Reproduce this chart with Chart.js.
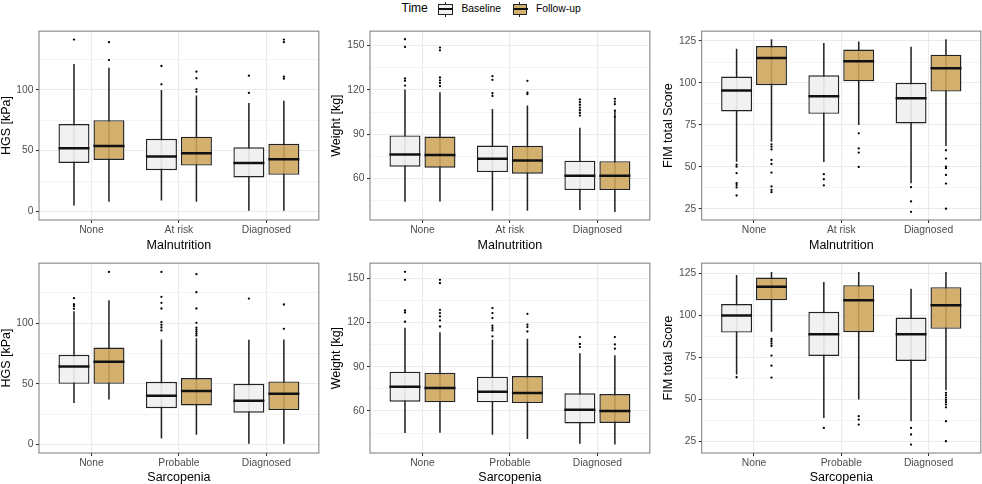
<!DOCTYPE html>
<html>
<head>
<meta charset="utf-8">
<script src="https://cdn.jsdelivr.net/npm/chart.js@4/dist/chart.umd.min.js"></script>
<style>
  html, body { margin: 0; padding: 0; background: #ffffff; }
  #wrap { position: relative; width: 982px; height: 484px; overflow: hidden; font-family: 'Liberation Sans', Arial, sans-serif; }
  canvas { position: absolute; }
  .lg { position: absolute; top: 0; height: 17px; line-height: 17px; white-space: nowrap; color: #000; }
  .key { position: absolute; top: 0; width: 17px; height: 17px; }
  .key .wh { position: absolute; left: 7.5px; width: 1.3px; top: 1.5px; height: 15px; background: #222; }
  .key .bx { position: absolute; left: 1px; top: 4px; width: 12.5px; height: 8.5px; border: 1.3px solid #222; }
  .key .md { position: absolute; left: 1px; top: 7.7px; width: 15px; height: 2px; background: #111; }
</style>
</head>
<body>
<div id="wrap">
  <div class="lg" style="left:401.5px;font-size:12px;">Time</div>
  <div class="key" style="left:437px;"><div class="wh"></div><div class="bx" style="background:#F2F2F2"></div><div class="md"></div></div>
  <div class="lg" style="left:461.5px;font-size:10.3px;">Baseline</div>
  <div class="key" style="left:511.5px;"><div class="wh"></div><div class="bx" style="background:#D3B06E"></div><div class="md"></div></div>
  <div class="lg" style="left:536px;font-size:10.3px;">Follow-up</div>

  <canvas id="c1" width="320" height="222" style="left:0px;top:30px"></canvas>
  <canvas id="c2" width="321" height="222" style="left:330px;top:30px"></canvas>
  <canvas id="c3" width="320" height="222" style="left:662px;top:30px"></canvas>
  <canvas id="c4" width="320" height="222" style="left:0px;top:262px"></canvas>
  <canvas id="c5" width="321" height="222" style="left:330px;top:262px"></canvas>
  <canvas id="c6" width="320" height="222" style="left:662px;top:262px"></canvas>
</div>
<script>
// ---------------- DATA ----------------
const malCategories = ['None', 'At risk', 'Diagnosed'];
const sarCategories = ['None', 'Probable', 'Diagnosed'];
const seriesNames = ['Baseline', 'Follow-up'];

// each entry: [lower whisker, Q1, median, Q3, upper whisker]
const hgsMalBaseline = [[4.9, 39.9, 51.9, 71.9, 121.3], [9.0, 33.9, 45.1, 59.8, 100.0], [0, 27.9, 39.9, 52.7, 89.3]];
const hgsMalFollowup = [[7.9, 42.3, 53.8, 75.1, 118.3], [7.9, 37.7, 47.8, 61.5, 95.4], [0, 30.1, 42.9, 55.7, 91.0]];
const hgsMalBaselineOut = [[141.5], [119.7, 104.6], [111.7, 97.5]];
const hgsMalFollowupOut = [[139.3, 124.6], [115.0, 109.6, 100.5, 98.4], [141.5, 139.3, 110.9, 109.3]];

const wtMalBaseline = [[44.2, 67.9, 76.2, 89.1, 120.2], [38.1, 64.3, 73.3, 82.3, 107.1], [38.6, 52.1, 61.8, 72.0, 94.3]];
const wtMalFollowup = [[44.4, 67.2, 75.8, 88.4, 118.4], [38.1, 63.2, 72.2, 82.1, 109.4], [37.2, 52.1, 61.8, 71.7, 106.7]];
const wtMalBaselineOut = [[154.3, 149.1, 127.7, 126.1, 122.9], [129.3, 126.8, 117.7, 115.9], [113.5, 111.7, 109.9, 108.0, 106.2, 104.4, 102.6]];
const wtMalFollowupOut = [[148.7, 146.8, 128.4, 126.5, 124.7, 122.5], [126.1, 118.2, 117.1], [113.9, 112.1, 110.3, 105.8, 101.7]];

const fimMalBaseline = [[53.1, 83.0, 95.5, 103.8, 120.4], [52.9, 81.6, 92.1, 104.6, 123.8], [40.2, 75.9, 90.9, 100.0, 121.6]];
const fimMalFollowup = [[65.0, 98.7, 114.9, 122.0, 126.0], [74.9, 101.0, 112.9, 119.9, 124.8], [62.4, 94.9, 108.8, 116.9, 126.0]];
const fimMalBaselineOut = [[51.3, 50.1, 46.2, 40.2, 39.1, 37.7, 32.9], [45.6, 42.6, 38.9], [37.9, 29.4, 23.2]];
const fimMalFollowupOut = [[63.4, 62.0, 60.4, 54.1, 51.7, 46.6, 38.3, 36.3, 34.9], [70.0, 61.0, 58.5, 49.9], [59.9, 54.9, 50.1, 49.2, 45.2, 40.0, 25.0]];

const hgsSarBaseline = [[34.1, 50.0, 64.3, 73.9, 109.9], [4.9, 29.9, 40.1, 51.6, 86.5], [0, 26.1, 36.0, 50.0, 86.3]];
const hgsSarFollowup = [[37.1, 50.0, 68.1, 79.9, 119.0], [8.0, 32.1, 44.0, 54.7, 87.6], [0, 28.3, 41.8, 51.9, 86.5]];
const hgsSarBaselineOut = [[120.6, 115.7, 114.0, 111.8], [142.3, 121.7, 116.8, 112.1, 100.8, 98.6, 96.4, 94.0], [120.3]];
const hgsSarFollowupOut = [[142.3], [140.4, 125.5, 112.1, 100.3, 96.2, 94.5, 92.9, 91.2, 89.8], [115.4, 95.3]];

const wtSarBaseline = [[45.1, 66.3, 76.5, 86.7, 116.5], [43.9, 65.9, 73.1, 83.3, 108.4], [37.8, 51.6, 60.9, 72.0, 99.3]];
const wtSarFollowup = [[45.3, 65.9, 75.6, 86.0, 113.4], [41.0, 65.4, 72.2, 83.7, 109.1], [37.2, 51.9, 60.0, 71.5, 97.8]];
const wtSarBaselineOut = [[154.5, 149.1, 128.3, 126.9, 120.6], [129.9, 126.5, 123.1, 117.9, 116.3, 114.7, 110.7], [110.2, 105.5, 103.4]];
const wtSarFollowupOut = [[149.1, 146.8, 128.7, 126.5, 124.2, 121.5, 117.4], [126.0, 118.6, 117.0, 114.0], [110.2, 105.2, 102.3]];

const fimSarBaseline = [[64.9, 89.9, 100.0, 106.9, 124.2], [39.1, 76.0, 88.9, 102.2, 120.0], [37.1, 73.0, 88.9, 98.8, 115.9]];
const fimSarFollowup = [[90.3, 109.1, 117.1, 122.6, 126.0], [50.0, 90.1, 109.1, 118.1, 126.0], [55.6, 92.1, 106.2, 116.9, 126.0]];
const fimSarBaselineOut = [[63.3], [33.1], [33.1, 29.2, 23.2]];
const fimSarFollowupOut = [[86.1, 84.7, 83.3, 81.9, 76.2, 70.2, 63.1], [40.1, 38.1, 35.1], [54.0, 52.6, 51.2, 49.8, 48.4, 47.0, 45.4, 37.1, 25.2]];

// tick labels (major) and minor grid positions
const hgsTicks = [0, 50, 100];
const hgsMinor = [25, 75, 125];
const wtTicks = [60, 90, 120, 150];
const wtMinor = [45, 75, 105, 135];
const fimTicks = [25, 50, 75, 100, 125];
const fimMinor = [37.5, 62.5, 87.5, 112.5];

// ---------------- STYLE ----------------
Chart.defaults.font.family = "'Liberation Sans', Arial, sans-serif";
const FILL_BASE = 'rgba(240,240,240,0.92)';
const FILL_FOLLOW = 'rgba(205,165,90,0.88)';
const INK = '#222222';
const GRID = '#EBEBEB';
const CAT_PCT = 0.8;     // share of category used by the dodged pair
const BOX_PCT = 0.886;   // share of slot used by a box
const WHISK_PCT = 0.044; // share of slot used by a whisker line
const SHIFT = CAT_PCT / 4;

const framePlugin = {
  id: 'frame',
  afterDatasetsDraw(chart) {
    const a = chart.chartArea, ctx = chart.ctx;
    ctx.save();
    ctx.strokeStyle = '#7a7a7a';
    ctx.lineWidth = 1;
    ctx.strokeRect(a.left, a.top, a.right - a.left, a.bottom - a.top);
    ctx.restore();
  }
};

function boxWidthPx(chart) {
  const xs = chart.scales.x;
  const unit = xs.getPixelForValue(2) - xs.getPixelForValue(1);
  return unit * CAT_PCT / 2 * BOX_PCT;
}

function makePanel(id, cats, base, follow, baseOut, followOut, yTitle, xTitle, major, minor, yMin, yMax, yWidth, xHeight, padR) {
  const boxData = (s) => s.map((v, i) => ({ x: i + 1, y: [v[1], v[3]] }));
  const whiskData = (s) => s.map((v, i) => ({ x: i + 1, y: [v[0], v[4]] }));
  const medData = (s, d) => s.map((v, i) => ({ x: i + 1 + d, y: v[2] }));
  const outData = (o, d) => o.flatMap((arr, i) => arr.map(v => ({ x: i + 1 + d, y: v })));
  const medianDs = (s, d, name) => ({
    type: 'scatter', label: name + ' median', data: medData(s, d),
    pointStyle: 'line', borderColor: '#111111', borderWidth: 2.5,
    radius: (ctx) => boxWidthPx(ctx.chart) / 2, hoverRadius: 0
  });
  const boxDs = (s, stack, fill, name) => ({
    type: 'bar', label: name, stack: stack, data: boxData(s),
    backgroundColor: fill, borderColor: INK, borderWidth: 1.4, borderSkipped: false,
    categoryPercentage: CAT_PCT, barPercentage: BOX_PCT
  });
  const whiskDs = (s, stack, name) => ({
    type: 'bar', label: name + ' whiskers', stack: stack, data: whiskData(s),
    backgroundColor: INK, borderWidth: 0,
    categoryPercentage: CAT_PCT, barPercentage: WHISK_PCT
  });
  const outDs = (o, d, name) => ({
    type: 'scatter', label: name + ' outliers', data: outData(o, d),
    pointStyle: 'circle', radius: 1.15, backgroundColor: '#000000', borderWidth: 0, hoverRadius: 0
  });
  const allY = major.concat(minor).sort((a, b) => a - b);
  const isMajor = (v) => major.indexOf(v) !== -1;

  new Chart(document.getElementById(id), {
    type: 'bar',
    data: {
      datasets: [
        medianDs(base, -SHIFT, seriesNames[0]),
        medianDs(follow, SHIFT, seriesNames[1]),
        boxDs(base, 'B', FILL_BASE, seriesNames[0]),
        boxDs(follow, 'F', FILL_FOLLOW, seriesNames[1]),
        whiskDs(base, 'B', seriesNames[0]),
        whiskDs(follow, 'F', seriesNames[1]),
        outDs(baseOut, -SHIFT, seriesNames[0]),
        outDs(followOut, SHIFT, seriesNames[1])
      ]
    },
    options: {
      responsive: false,
      animation: false,
      events: [],
      layout: { padding: { top: 1, right: padR, left: 0, bottom: 0 } },
      plugins: { legend: { display: false }, tooltip: { enabled: false } },
      scales: {
        x: {
          type: 'linear', min: 0.4, max: 3.6, offset: false,
          afterBuildTicks: (s) => { s.ticks = cats.map((c, i) => ({ value: i + 1 })); },
          afterFit: (s) => { s.height = xHeight; s.paddingLeft = 0; s.paddingRight = 0; },
          ticks: {
            autoSkip: false, maxRotation: 0, padding: 1, color: '#4D4D4D',
            font: { size: 10.3 },
            callback: (v) => cats[Math.round(v) - 1]
          },
          grid: { offset: false, color: GRID, lineWidth: 1.1, tickColor: INK, tickLength: 3, tickWidth: 1 },
          border: { display: false },
          title: { display: true, text: xTitle, color: '#000', font: { size: 12.5, lineHeight: 1.04 }, padding: 0 }
        },
        y: {
          type: 'linear', min: yMin, max: yMax, stacked: false,
          afterBuildTicks: (s) => { s.ticks = allY.map(v => ({ value: v })); },
          afterFit: (s) => { s.width = yWidth; s.paddingTop = 0; s.paddingBottom = 0; },
          ticks: {
            autoSkip: false, padding: 2.5, color: '#4D4D4D', font: { size: 10.3 },
            callback: (v) => isMajor(v) ? String(v) : ''
          },
          grid: {
            color: GRID,
            lineWidth: (c) => (c.tick && isMajor(c.tick.value)) ? 1.1 : 0.55,
            tickColor: (c) => (c.tick && isMajor(c.tick.value)) ? INK : 'rgba(0,0,0,0)',
            tickLength: 3, tickWidth: 1
          },
          border: { display: false },
          title: { display: true, text: yTitle, color: '#000', font: { size: 12.5, lineHeight: 1.04 }, padding: 0 }
        }
      }
    },
    plugins: [framePlugin]
  });
}

makePanel('c1', malCategories, hgsMalBaseline, hgsMalFollowup, hgsMalBaselineOut, hgsMalFollowupOut,
  'HGS [kPa]', 'Malnutrition', hgsTicks, hgsMinor, -7.1, 148.4, 39, 32, 1);
makePanel('c2', malCategories, wtMalBaseline, wtMalFollowup, wtMalBaselineOut, wtMalFollowupOut,
  'Weight [kg]', 'Malnutrition', wtTicks, wtMinor, 31.8, 159.8, 40, 32, 1);
makePanel('c3', malCategories, fimMalBaseline, fimMalFollowup, fimMalBaselineOut, fimMalFollowupOut,
  'FIM total Score', 'Malnutrition', fimTicks, fimMinor, 18.3, 130.9, 39.7, 32, 0.5);
makePanel('c4', sarCategories, hgsSarBaseline, hgsSarFollowup, hgsSarBaselineOut, hgsSarFollowupOut,
  'HGS [kPa]', 'Sarcopenia', hgsTicks, hgsMinor, -7.1, 149.5, 39, 31, 1);
makePanel('c5', sarCategories, wtSarBaseline, wtSarFollowup, wtSarBaselineOut, wtSarFollowupOut,
  'Weight [kg]', 'Sarcopenia', wtTicks, wtMinor, 31.5, 160.4, 40, 31, 1);
makePanel('c6', sarCategories, fimSarBaseline, fimSarFollowup, fimSarBaselineOut, fimSarFollowupOut,
  'FIM total Score', 'Sarcopenia', fimTicks, fimMinor, 18.2, 131.2, 39.7, 31, 0.5);
</script>
</body>
</html>
